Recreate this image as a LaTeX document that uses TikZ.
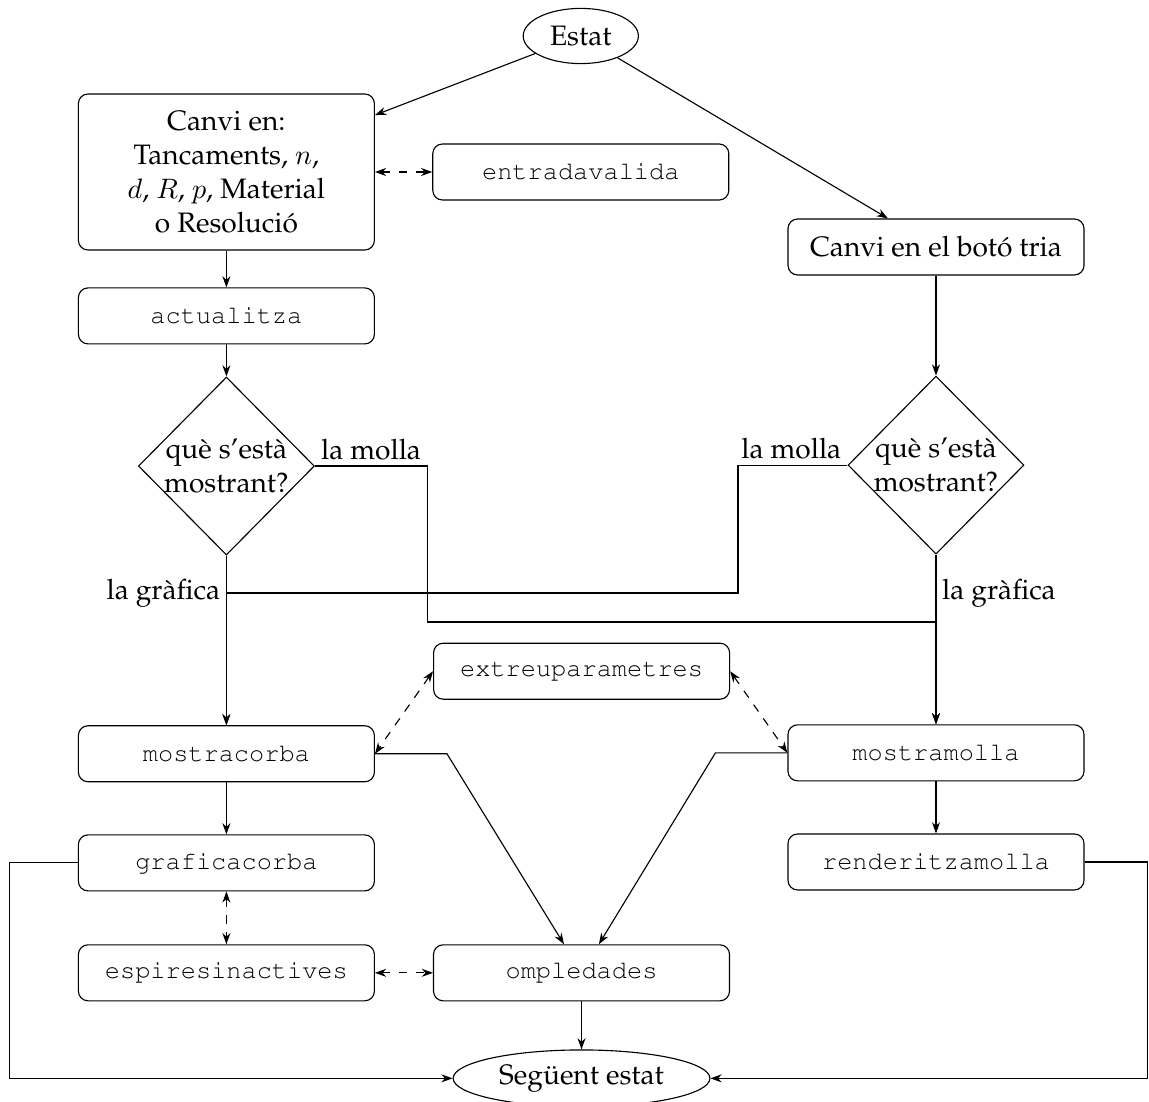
\documentclass[tikz,border=0pt]{standalone}
\usepackage[T1]{fontenc}
\usepackage{palatino}
\usepackage{courier}
\usepackage{tikz}
\usetikzlibrary{arrows.meta,positioning,shapes.geometric}

\begin{document}
\begin{tikzpicture}[
  caixa/.style={draw, rounded corners=1.2mm, minimum width=37mm, minimum
    height=7mm, align=center},
  fn/.style={caixa, font=\small\ttfamily},
  pregunta/.style={draw, diamond, minimum width=22mm, minimum height=22.25mm,
    inner sep=-3pt, align=center},
  estat/.style={draw, ellipse, inner sep=1pt},
  arr/.style={-{Stealth[length=1.4mm, width=1mm]}},
  darr/.style={{Stealth[length=1.4mm, width=1mm]}-{Stealth[length=1.4mm, width=1mm]}, dashed},
  lab/.style={inner sep=2pt},
]
\useasboundingbox (0,0) rectangle (14.3625,-13.775);
\node[estat, minimum width=14.4mm, minimum height=6.9mm] (est) at (7.26,-0.45) {Estat};
\node[caixa, minimum height=19.5mm] (canvi) at (2.83,-2.15)
  {Canvi en:\\Tancaments, $n$,\\$d$, $R$, $p$, Material\\o Resolució};
\node[fn] (entr) at (7.26,-2.15) {entradavalida};
\node[caixa] (tria) at (11.70,-3.0875) {Canvi en el botó tria};
\node[fn, below=4.6mm of canvi] (actu) {actualitza};
\node[pregunta, below=4mm of actu] (qA) {què s'està\\mostrant?};
\node[pregunta, below=12.5mm of tria] (qB) {què s'està\\mostrant?};
\node[fn, below=21.2mm of qA] (corba) {mostracorba};
\node[fn, below=21.2mm of qB] (molla) {mostramolla};
\node[fn] (extreu) at (7.27,-8.39) {extreuparametres};
\node[fn, below=6.5mm of corba] (grafica) {graficacorba};
\node[fn, below=6.5mm of molla] (render) {renderitzamolla};
\node[fn, below=6.6mm of grafica] (espires) {espiresinactives};
\node[fn, right=7.25mm of espires] (omple) {ompledades};
\node[estat, below=6mm of omple, minimum width=32.1mm, minimum height=7.1mm] (seg) {Següent estat};
\coordinate (mA) at (5.34,-7.775);
\coordinate (mB) at (9.225,-7.4125);
\draw[arr] (est) -- (canvi);
\draw[arr] (est) -- (tria);
\draw[darr] (canvi) -- (entr);
\draw[arr] (canvi) -- (actu);
\draw[arr] (actu) -- (qA);
\draw[arr] (tria) -- (qB);
\draw[arr] (qA) -- (corba);
\draw[arr] (qB) -- (molla);
\draw[arr] (qA.east) -| (mA) -| (molla);
\draw[arr] (qB.west) -| (mB) -| (corba);
\node[lab, anchor=south west] (lmA) at (qA.east) {la molla};
\node[lab, anchor=south east] (lmB) at (qB.west) {la molla};
\node[lab, anchor=east] (lgA) at (corba |- mB) {la gràfica};
\node[lab, anchor=west] (lgB) at (molla |- mB) {la gràfica};
\draw[darr] (extreu.west) -- (corba.east);
\draw[darr] (extreu.east) -- (molla.west);
\draw[arr] (corba) -- (grafica);
\draw[arr] (molla) -- (render);
\draw[darr] (grafica) -- (espires);
\draw[darr] (espires) -- (omple);
\draw[arr] (corba.east) -- ++(0.9,0) -- (omple);
\draw[arr] (molla.west) -- ++(-0.9,0) -- (omple);
\draw[arr] (omple) -- (seg);
\draw[arr] (grafica.west) -- ++(-0.85,0) |- (seg);
\draw[arr] (render.east) -- ++(0.79,0) |- (seg);
\end{tikzpicture}
\end{document}
